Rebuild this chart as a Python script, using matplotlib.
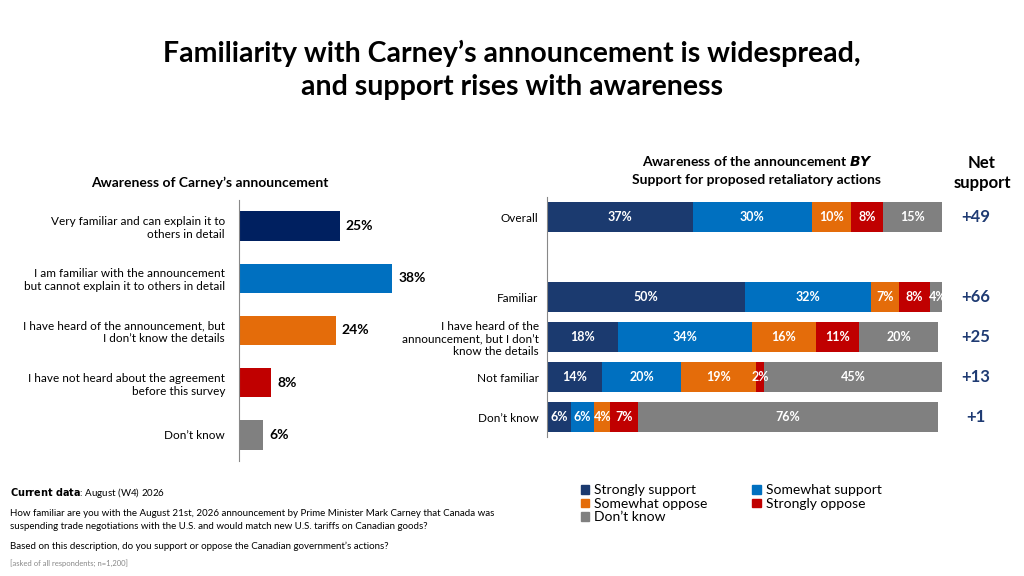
import matplotlib.pyplot as plt
from matplotlib.patches import Patch

plt.rcParams['font.family'] = ['Lato', 'DejaVu Sans']

# --- data ---
aware_labels = ['Very familiar and can explain it to\nothers in detail',
                'I am familiar with the announcement\nbut cannot explain it to others in detail',
                'I have heard of the announcement, but\nI don\u2019t know the details',
                'I have not heard about the agreement\nbefore this survey',
                'Don\u2019t know']
aware_values = [25, 38, 24, 8, 6]

groups = ['Overall', 'Familiar',
          'I have heard of the\nannouncement, but I don\u2019t\nknow the details',
          'Not familiar', 'Don\u2019t know']
group_pos = [0, 2, 3, 4, 5]
strongly_support = [37, 50, 18, 14, 6]
somewhat_support = [30, 32, 34, 20, 6]
somewhat_oppose = [10, 7, 16, 19, 4]
strongly_oppose = [8, 8, 11, 2, 7]
dont_know = [15, 4, 20, 45, 76]
net_support = ['+49', '+66', '+25', '+13', '+1']

series_names = ['Strongly support', 'Somewhat support', 'Somewhat oppose',
                'Strongly oppose', 'Don\u2019t know']
colors = ['#1B3A6F', '#0070C0', '#E46C0A', '#C00000', '#808080']
aware_colors = ['#002060', '#0070C0', '#E46C0A', '#C00000', '#808080']

fig = plt.figure(figsize=(10.24, 5.76), dpi=100)
W, H = 1024, 576

fig.text(0.5, 1 - 70 / H, 'Familiarity with Carney\u2019s announcement is widespread,\nand support rises with awareness',
         ha='center', va='center', fontsize=20.5, fontweight='bold', linespacing=1.3)

# --- left chart ---
axl = fig.add_axes([239 / W, 1 - 461 / H, 242 / W, 261 / H])
ypos = list(range(len(aware_values)))
axl.barh(ypos, aware_values, height=0.56, color=aware_colors)
for y, v in zip(ypos, aware_values):
    axl.text(v + 1.5, y, f'{v}%', va='center', ha='left', fontsize=10, fontweight='bold')
axl.set_ylim(4.5, -0.5)
axl.set_xlim(0, 60)
axl.set_yticks(ypos)
axl.set_yticklabels(aware_labels, fontsize=8.5)
axl.tick_params(axis='y', length=0, pad=10)
axl.set_xticks([])
for s in ['top', 'right', 'bottom']:
    axl.spines[s].set_visible(False)
axl.spines['left'].set_color('#888888')
fig.text(210 / W, 1 - 183 / H, 'Awareness of Carney\u2019s announcement', ha='center', va='center',
         fontsize=10, fontweight='bold')

# --- right chart ---
axr = fig.add_axes([547 / W, 1 - 437 / H, 395 / W, 240 / H])
series = [strongly_support, somewhat_support, somewhat_oppose, strongly_oppose, dont_know]
left = [0] * len(groups)
for vals, col, name in zip(series, colors, series_names):
    axr.barh(group_pos, vals, left=left, height=0.75, color=col, label=name)
    for y, l, v in zip(group_pos, left, vals):
        axr.text(l + v / 2, y, f'{v}%', ha='center', va='center', color='white',
                 fontsize=9, fontweight='bold')
    left = [a + b for a, b in zip(left, vals)]
axr.set_xlim(0, 100)
axr.set_ylim(5.5, -0.5)
axr.set_yticks(group_pos)
axr.set_yticklabels(groups, fontsize=8.5, ha='right')
axr.tick_params(axis='y', length=0, pad=6)
axr.set_xticks([])
for s in ['top', 'right', 'bottom']:
    axr.spines[s].set_visible(False)
axr.spines['left'].set_color('#888888')
for y, n in zip(group_pos, net_support):
    axr.text(108.5, y, n, ha='center', va='center', fontsize=12, fontweight='bold',
             color='#1F3B73', clip_on=False)

fig.text(757 / W, 1 - 170 / H, 'Awareness of the announcement $\\bfit{BY}$\nSupport for proposed retaliatory actions',
         ha='center', va='center', fontsize=10, fontweight='bold', linespacing=1.5)
fig.text(982 / W, 1 - 173 / H, 'Net\nsupport', ha='center', va='center', fontsize=12,
         fontweight='bold', linespacing=1.3)

# legend filled column-wise, so order handles to read row by row
order = [0, 2, 4, 1, 3]
handles = [Patch(color=colors[i], label=series_names[i]) for i in order]
fig.legend(handles=handles, loc='upper left', bbox_to_anchor=(568 / W, 1 - 472 / H), ncol=2,
           frameon=False, fontsize=10, handlelength=0.6, handleheight=0.6,
           handletextpad=0.4, columnspacing=3.2, labelspacing=0.1)

# --- footnotes ---
fig.text(10 / W, 1 - 493 / H, r'$\bf{Current\ data}$: August (W4) 2026', fontsize=7, va='center')
fig.text(10 / W, 1 - 520 / H, 'How familiar are you with the August 21st, 2026 announcement by Prime Minister Mark Carney that Canada was\n'
         'suspending trade negotiations with the U.S. and would match new U.S. tariffs on Canadian goods?',
         fontsize=7, va='center', linespacing=1.5)
fig.text(10 / W, 1 - 546 / H, 'Based on this description, do you support or oppose the Canadian government\u2019s actions?',
         fontsize=7, va='center')
fig.text(10 / W, 1 - 563 / H, '[asked of all respondents; n=1,200]', fontsize=5.5, va='center', color='#888888')

fig.savefig('out.png', dpi=100)
